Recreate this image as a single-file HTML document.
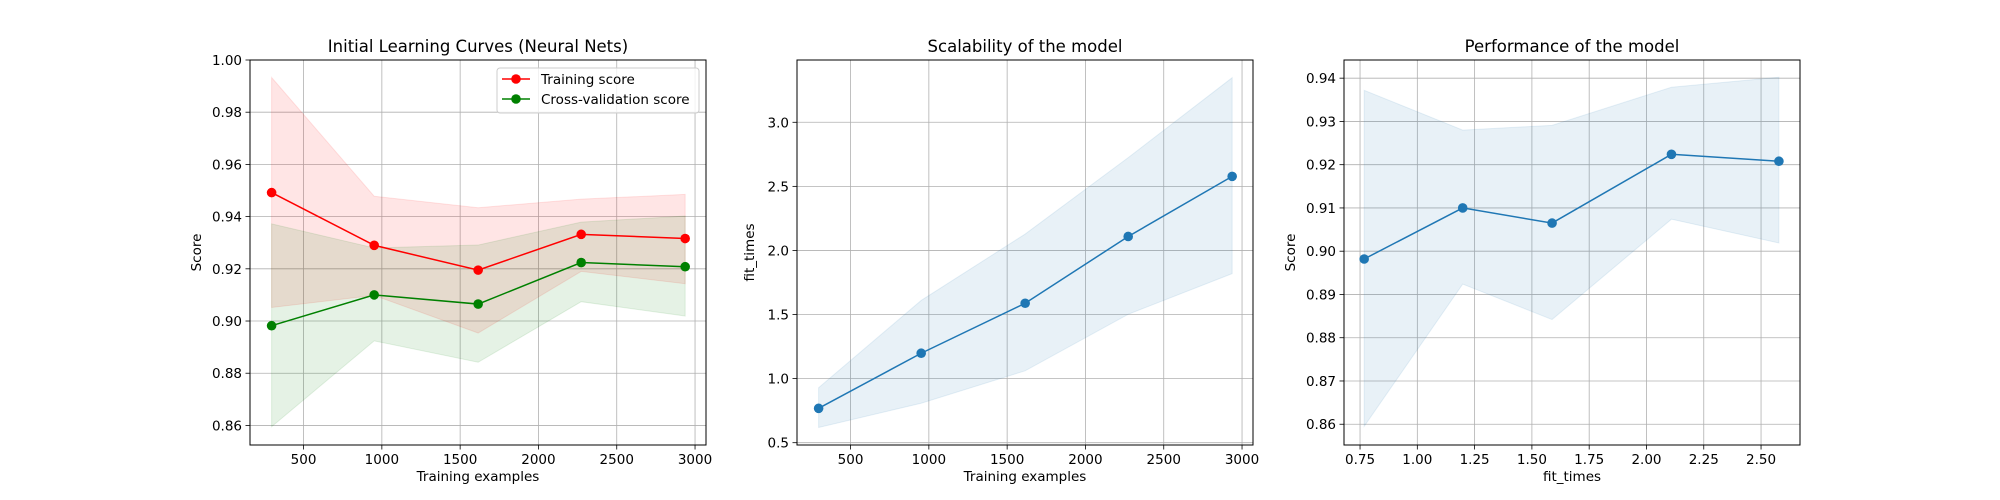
<!DOCTYPE html>
<html><head><meta charset="utf-8"><style>
html,body{margin:0;padding:0;background:#fff;}
svg{display:block;font-family:"DejaVu Sans","Liberation Sans",sans-serif;}
</style></head><body>
<svg id="fig" width="2000" height="500" viewBox="0 0 2000 500" xmlns="http://www.w3.org/2000/svg"></svg>
<script>
// Shared data
const trainSizes = [296, 951, 1615, 2273, 2937];
const trainMean = [0.9492, 0.9290, 0.9195, 0.9332, 0.9316];
const trainUpper = [0.9933, 0.9478, 0.9434, 0.9467, 0.9485];
const trainLower = [0.9052, 0.9098, 0.8954, 0.9190, 0.9143];
const cvMean = [0.8982, 0.9100, 0.9065, 0.9224, 0.9208];
const cvUpper = [0.9372, 0.9280, 0.9291, 0.9379, 0.9402];
const cvLower = [0.8595, 0.8924, 0.8842, 0.9074, 0.9019];
const fitMean = [0.768, 1.198, 1.588, 2.109, 2.578];
const fitUpper = [0.929, 1.61, 2.128, 2.724, 3.348];
const fitLower = [0.619, 0.808, 1.061, 1.502, 1.819];
const xTicksTrain = [500, 1000, 1500, 2000, 2500, 3000];
const yTicksP1 = [0.86, 0.88, 0.90, 0.92, 0.94, 0.96, 0.98, 1.00];
const yTicksP2 = [0.5, 1.0, 1.5, 2.0, 2.5, 3.0];
const yTicksP3 = [0.86, 0.87, 0.88, 0.89, 0.90, 0.91, 0.92, 0.93, 0.94];
const xTicksP3 = [0.75, 1.00, 1.25, 1.50, 1.75, 2.00, 2.25, 2.50];

const NS = "http://www.w3.org/2000/svg";
const svg = document.getElementById('fig');
function mk(tag, attrs, parent) {
  const e = document.createElementNS(NS, tag);
  for (const k in attrs) e.setAttribute(k, attrs[k]);
  (parent || svg).appendChild(e);
  return e;
}
const TOP = 60, BOT = 445;

function panel(o) {
  const g = mk('g', {});
  
  
  const sx = v => o.left + (v - o.xmin) / (o.xmax - o.xmin) * (o.right - o.left);
  const sy = v => BOT - (v - o.ymin) / (o.ymax - o.ymin) * (BOT - TOP);
  o.xticks.forEach(t => {
    const l = mk('line', {x1: sx(t), x2: sx(t), y1: TOP, y2: BOT, stroke: '#b0b0b0', 'stroke-width': 0.8}, g);
    
    
  });
  o.yticks.forEach(t => {
    const l = mk('line', {x1: o.left, x2: o.right, y1: sy(t), y2: sy(t), stroke: '#b0b0b0', 'stroke-width': 0.8}, g);
    
    
  });
  o.bands.forEach(b => {
    let pts = b.x.map((x, i) => sx(x) + ',' + sy(b.up[i]));
    pts = pts.concat(b.x.map((x, i) => sx(x) + ',' + sy(b.lo[i])).reverse());
    const p = mk('polygon', {points: pts.join(' '), fill: b.color, 'fill-opacity': 0.1, stroke: b.color, 'stroke-opacity': 0.1, 'stroke-width': 1}, g);
    
    
  });
  o.lines.forEach(s => {
    const pl = mk('polyline', {points: s.x.map((x, i) => sx(x) + ',' + sy(s.y[i])).join(' '), fill: 'none', stroke: s.color, 'stroke-width': 1.5}, g);
    
    
    s.x.forEach((x, i) => {
      const c = mk('circle', {cx: sx(x), cy: sy(s.y[i]), r: 4.8, fill: s.color}, g);
      
      
    });
  });
  const fr = mk('rect', {x: o.left, y: TOP, width: o.right - o.left, height: BOT - TOP, fill: 'none', stroke: '#000', 'stroke-width': 1}, g);
  
  
  o.xticks.forEach(t => {
    mk('line', {x1: sx(t), x2: sx(t), y1: BOT, y2: BOT + 4.5, stroke: '#000', 'stroke-width': 0.8}, g);
    const tx = mk('text', {x: sx(t), y: BOT + 19, 'text-anchor': 'middle', 'font-size': 13.5, fill: '#000'}, g);
    tx.textContent = t.toFixed(o.xdec);
    
    
  });
  o.yticks.forEach(t => {
    mk('line', {x1: o.left - 4.5, x2: o.left, y1: sy(t), y2: sy(t), stroke: '#000', 'stroke-width': 0.8}, g);
    const ty = mk('text', {x: o.left - 8, y: sy(t) + 5, 'text-anchor': 'end', 'font-size': 13.5, fill: '#000'}, g);
    ty.textContent = t.toFixed(o.ydec);
    
    
  });
  const cx = (o.left + o.right) / 2;
  const ti = mk('text', {x: cx, y: 52, 'text-anchor': 'middle', 'font-size': 16.5, fill: '#000'}, g);
  ti.textContent = o.title;
  
  
  const xl = mk('text', {x: cx, y: 481, 'text-anchor': 'middle', 'font-size': 13.5, fill: '#000'}, g);
  xl.textContent = o.xlabel;
  
  
  const yx = o.ylabelX, yy = (TOP + BOT) / 2;
  const yl = mk('text', {x: yx, y: yy, 'text-anchor': 'middle', 'font-size': 13.5, fill: '#000', transform: 'rotate(-90 ' + yx + ' ' + yy + ')'}, g);
  yl.textContent = o.ylabel;
  
  
  return {g, sx, sy};
}

panel({name: 'learning-curve-panel', left: 250, right: 706, xmin: 158, xmax: 3070, ymin: 0.8525, ymax: 1.0,
  xticks: xTicksTrain, yticks: yTicksP1, xdec: 0, ydec: 2, title: 'Initial Learning Curves (Neural Nets)',
  xlabel: 'Training examples', ylabel: 'Score', ylabelX: 201,
  bands: [{name: 'training-band', x: trainSizes, up: trainUpper, lo: trainLower, color: '#ff0000'},
          {name: 'cv-band', x: trainSizes, up: cvUpper, lo: cvLower, color: '#008000'}],
  lines: [{name: 'training-score-line', x: trainSizes, y: trainMean, color: '#ff0000'},
          {name: 'cv-score-line', x: trainSizes, y: cvMean, color: '#008000'}]});

const lg = mk('g', {});


mk('rect', {x: 497, y: 68, width: 202, height: 45, rx: 3, fill: '#fff', 'fill-opacity': 0.8, stroke: '#cccccc', 'stroke-width': 1}, lg);
[['Training score', '#ff0000', 79], ['Cross-validation score', '#008000', 99]].forEach(e => {
  const eg = mk('g', {}, lg);
  
  
  mk('line', {x1: 502, x2: 530, y1: e[2], y2: e[2], stroke: e[1], 'stroke-width': 1.5}, eg);
  mk('circle', {cx: 516, cy: e[2], r: 4.8, fill: e[1]}, eg);
  const t = mk('text', {x: 541, y: e[2] + 5, 'font-size': 13.5, fill: '#000'}, eg);
  t.textContent = e[0];
});

panel({name: 'scalability-panel', left: 797, right: 1253, xmin: 158, xmax: 3070, ymin: 0.482, ymax: 3.486,
  xticks: xTicksTrain, yticks: yTicksP2, xdec: 0, ydec: 1, title: 'Scalability of the model',
  xlabel: 'Training examples', ylabel: 'fit_times', ylabelX: 754,
  bands: [{name: 'fit-time-band', x: trainSizes, up: fitUpper, lo: fitLower, color: '#1f77b4'}],
  lines: [{name: 'fit-time-line', x: trainSizes, y: fitMean, color: '#1f77b4'}]});

panel({name: 'performance-panel', left: 1344, right: 1800, xmin: 0.680, xmax: 2.670, ymin: 0.8552, ymax: 0.9442,
  xticks: xTicksP3, yticks: yTicksP3, xdec: 2, ydec: 2, title: 'Performance of the model',
  xlabel: 'fit_times', ylabel: 'Score', ylabelX: 1295,
  bands: [{name: 'performance-band', x: fitMean, up: cvUpper, lo: cvLower, color: '#1f77b4'}],
  lines: [{name: 'performance-line', x: fitMean, y: cvMean, color: '#1f77b4'}]});
</script>
</body></html>
